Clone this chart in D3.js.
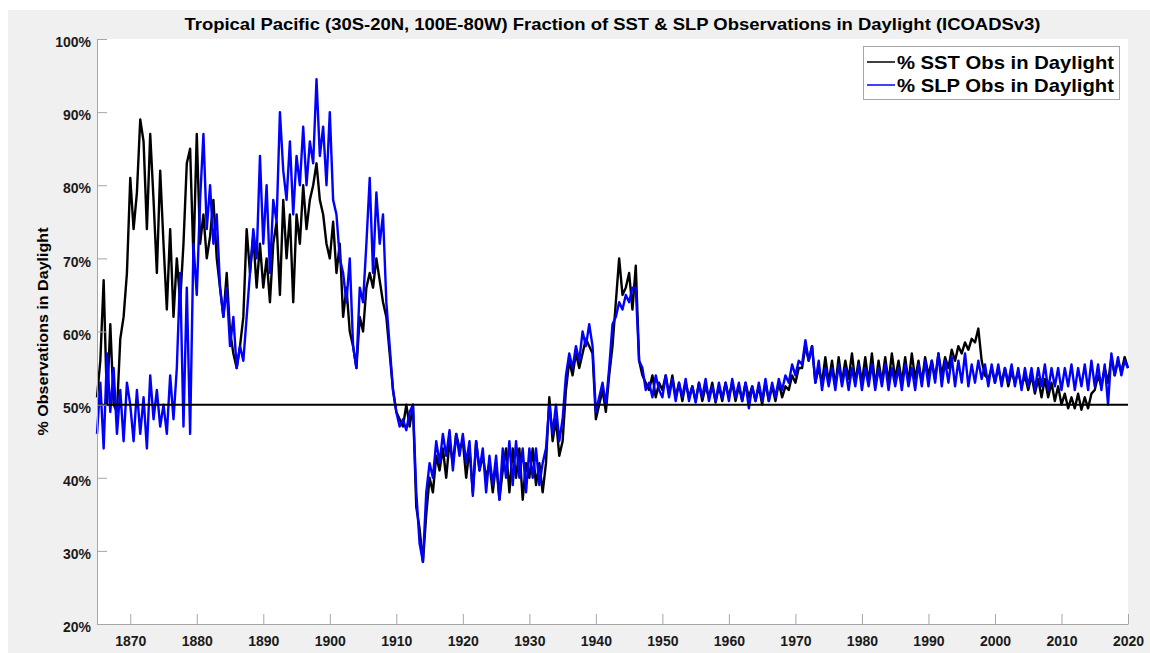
<!DOCTYPE html>
<html lang="en">
<head>
    <meta charset="utf-8">
    <title>Tropical Pacific Daylight Fraction</title>
    <script src="https://d3js.org/d3.v7.min.js"></script>
    <style>
    body {
        margin: 0;
        background: #fff;
        font-family: "Liberation Sans", Arial, sans-serif;
    }
    .tick text {
        font-weight: bold;
        fill: #1a1a1a;
    }
    </style>
</head>
<body>
    <script>

    // semiannual samples, starting 1865.0, step 0.5 year
    var startYear = 1865,
        stepYear = 0.5;

    // % of SST obs in daylight (black)
    var sst = [
        51, 56, 67, 50, 61, 50, 49, 59, 62, 68,
        81, 74, 79, 89, 86, 74, 87, 78, 68, 82, 72, 63, 74, 62, 70, 64, 72, 83, 85, 70,
        87, 72, 76, 70, 73, 78, 70, 66, 62, 68, 60, 57, 55, 58, 62, 74, 68, 73, 66, 72,
        66, 70, 64, 72, 75, 65, 78, 70, 76, 64, 76, 72, 80, 74, 78, 80, 83, 78, 76, 72,
        70, 75, 68, 72, 62, 66, 60, 58, 55, 62, 60, 66, 68, 66, 70, 67, 64, 62, 57, 52,
        49, 48, 47, 50, 47, 50, 36, 33, 28.5, 35, 40, 38, 43, 41, 44, 40, 45, 42, 46, 44,
        45, 40, 44, 38, 45, 41, 43, 40, 42, 38, 42, 37, 41, 44, 38, 44, 40, 44, 37, 42,
        40, 44, 39, 42, 38, 42, 51, 45, 48, 43, 45, 52, 56, 54, 57, 55, 57, 59, 58, 57,
        48, 50, 52, 49, 54, 58, 64, 70, 65, 66, 68, 63, 69, 56, 54, 53, 52, 54, 51, 53,
        52, 54, 51.5, 54, 51, 53, 50.5, 53, 51, 52.5, 50.5, 53, 50.5, 52.5, 51, 53, 50.3, 52.5, 50.5, 53,
        51, 53, 50.5, 52.5, 50.5, 53, 51, 52.5, 50.5, 52.5, 50, 53, 50.5, 52.5, 50.5, 53, 51, 52.5, 52, 54,
        53, 55, 55, 58, 56, 58, 53, 55, 53, 56.5, 53, 56, 52.5, 56.5, 53, 56, 53.5, 57, 53, 56,
        53, 56.5, 53, 57, 52.5, 56, 53, 56.5, 53, 57, 53.5, 56, 53, 56.5, 53, 57, 53.5, 56, 53, 56.5,
        54, 56, 53.5, 57, 54, 56.5, 55, 57.5, 56, 58, 57, 58.5, 57.5, 59, 58.5, 60.4, 56, 54, 53.5, 55,
        53, 55, 53, 55, 52.5, 54.5, 53, 54.5, 52.5, 54, 52, 54, 51.5, 53.5, 51, 53.5, 51, 53, 50.5, 52.5,
        50, 51.5, 49.5, 51, 49.5, 51.5, 49.3, 51, 49.5, 51.5, 52, 54, 52.5, 55, 53, 56.5, 54, 56, 54.5, 56.5,
        55
    ];

    // % of SLP obs in daylight (blue)
    var slp = [
        46, 53, 44, 57, 49, 55, 46, 52, 45, 53,
        50, 45, 52, 46, 51, 44, 54, 48, 52, 47, 50, 46, 54, 48, 55, 68, 47, 66, 46, 72,
        65, 78, 87, 74, 80, 72, 76, 66, 62, 66, 58, 62, 55, 58, 56, 62, 68, 74, 70, 84,
        72, 80, 68, 78, 75, 90, 82, 78, 86, 76, 84, 80, 88, 80, 86, 83, 94.5, 84, 88, 80,
        90, 78, 76, 70, 68, 64, 70, 58, 55, 66, 64, 72, 81, 68, 79, 72, 76, 64, 58, 52,
        49, 47, 48, 46.5, 49, 50, 38, 31, 28.5, 38, 42, 40, 45, 42, 46, 43, 46.5, 41, 46, 43,
        46, 42, 45, 37.5, 45, 41, 44, 38, 43, 39, 43, 37, 44, 40, 45, 39, 45, 40, 44, 38,
        44, 40, 44, 39, 42, 44, 50, 46, 50, 45, 48, 54, 57, 55, 58, 56, 60, 58, 61, 58,
        49, 51, 53, 50, 55, 61, 62, 64, 63, 65, 64, 66, 66, 56, 55, 52, 53, 51, 54, 52,
        51, 54, 51, 53.5, 50.5, 53, 51, 53.5, 50.5, 52.5, 50.3, 53, 51, 53.5, 50.5, 52.5, 50.5, 53, 50.8, 53,
        50.5, 53.5, 51, 53, 50.5, 53, 49.5, 52.5, 50.5, 53, 50.5, 53.5, 50.5, 53, 51, 53.5, 52, 54, 53, 55.5,
        54, 56, 55.5, 58.8, 56, 58, 53, 56, 52, 55, 52.5, 55, 52, 55.5, 52.5, 55, 52, 55, 52.5, 55.5,
        52, 55, 52.5, 55.5, 52, 55, 52.5, 55.5, 52, 55, 52.5, 55, 52, 55.5, 52.5, 55, 52, 55.5, 52.5, 56,
        52.5, 56, 53, 57, 52.5, 56, 53, 56.5, 52.5, 56, 53, 57, 52.5, 55.5, 53, 56, 53.5, 55.5, 52.5, 55.5,
        53, 55.5, 52.5, 55, 53, 55.5, 52.5, 55, 52, 55, 52.5, 55, 52, 55, 52.5, 55.5, 52, 55, 52.5, 55,
        52, 55, 52.5, 55.5, 52, 55, 52.5, 55.5, 52, 56, 52.5, 55.5, 52, 55.5, 50, 57, 54, 56.5, 54, 56,
        55
    ];

    var xTicks = [1870, 1880, 1890, 1900, 1910, 1920, 1930, 1940, 1950, 1960, 1970, 1980, 1990, 2000, 2010, 2020];
    var yTicks = [20, 30, 40, 50, 60, 70, 80, 90, 100];
    var refLine = 50;

    var titleText = "Tropical Pacific (30S-20N, 100E-80W) Fraction of SST & SLP Observations in Daylight (ICOADSv3)";
    var legendLabels = ["% SST Obs in Daylight", "% SLP Obs in Daylight"];
    var seriesColors = ["#000000", "#0000ff"];

    var width = 1150,
        height = 653;

    var margin = {left: 97, right: 22, top: 39, bottom: 29};

    var svg = d3.select("body")
        .append("svg")
        .attr("width", width)
        .attr("height", height);

    // gray figure background
    svg.append("rect")
        .attr("x", 8)
        .attr("y", 10)
        .attr("width", width - 8)
        .attr("height", height - 10)
        .attr("fill", "#f0f0f0");

    var x = d3.scaleLinear()
        .domain([1865, 2020])
        .range([margin.left, width - margin.right]);

    var y = d3.scaleLinear()
        .domain([20, 100])
        .range([height - margin.bottom, margin.top]);

    // white axes area
    svg.append("rect")
        .attr("x", x(1865))
        .attr("y", y(100))
        .attr("width", x(2020) - x(1865))
        .attr("height", y(20) - y(100))
        .attr("fill", "#fff");

    var toPoints = function(arr) {
        return arr.map(function(v, i) { return [startYear + i * stepYear, v]; });
    };

    var line = d3.line()
        .x(function(d) { return x(d[0]); })
        .y(function(d) { return y(d[1]); });

    var plot = svg.append("g");

    plot.append("path")
        .datum(toPoints(sst))
        .attr("d", line)
        .attr("fill", "none")
        .attr("stroke", seriesColors[0])
        .attr("stroke-width", 2.4)
        .attr("stroke-linejoin", "round");

    plot.append("path")
        .datum(toPoints(slp))
        .attr("d", line)
        .attr("fill", "none")
        .attr("stroke", seriesColors[1])
        .attr("stroke-width", 2.4)
        .attr("stroke-linejoin", "round");

    // 50% reference line
    plot.append("line")
        .attr("x1", x(1865))
        .attr("x2", x(2020))
        .attr("y1", y(refLine))
        .attr("y2", y(refLine))
        .attr("stroke", "#000")
        .attr("stroke-width", 2);

    // axes, ticks pointing inward
    var xAxis = svg.append("g")
        .attr("transform", "translate(0," + y(20) + ")")
        .call(d3.axisBottom(x)
            .tickValues(xTicks)
            .tickFormat(d3.format("d"))
            .tickSizeInner(-10)
            .tickSizeOuter(0)
            .tickPadding(8));

    var yAxis = svg.append("g")
        .attr("transform", "translate(" + x(1865) + ",0)")
        .call(d3.axisLeft(y)
            .tickValues(yTicks)
            .tickFormat(function(d) { return d + "%"; })
            .tickSizeInner(-10)
            .tickSizeOuter(0)
            .tickPadding(6));

    [xAxis, yAxis].forEach(function(g) {
        g.select(".domain").attr("stroke", "#a6a6a6");
        g.selectAll(".tick line").attr("stroke", "#a6a6a6");
        g.selectAll(".tick text")
            .style("font-size", "14px")
            .style("font-family", "'Liberation Sans', Arial, sans-serif");
    });
    xAxis.selectAll(".tick text").attr("dy", "1.0em");
    yAxis.selectAll(".tick text").attr("dy", "0.55em");

    // title
    svg.append("text")
        .attr("x", (x(1865) + x(2020)) / 2)
        .attr("y", 30)
        .attr("text-anchor", "middle")
        .attr("textLength", 856)
        .attr("lengthAdjust", "spacingAndGlyphs")
        .style("font-size", "16.5px")
        .style("font-weight", "bold")
        .text(titleText);

    // y label
    svg.append("text")
        .attr("transform", "translate(48," + (y(60)) + ") rotate(-90)")
        .attr("text-anchor", "middle")
        .attr("textLength", 208)
        .attr("lengthAdjust", "spacingAndGlyphs")
        .style("font-size", "15.5px")
        .style("font-weight", "bold")
        .text("% Observations in Daylight");

    // legend
    var legend = svg.append("g");
    legend.append("rect")
        .attr("x", 863.5)
        .attr("y", 46.5)
        .attr("width", 256)
        .attr("height", 53)
        .attr("fill", "#fff")
        .attr("stroke", "#a6a6a6")
        .attr("stroke-width", 1);

    legendLabels.forEach(function(lab, i) {
        var ly = 62 + i * 23;
        legend.append("line")
            .attr("x1", 867)
            .attr("x2", 895)
            .attr("y1", ly)
            .attr("y2", ly)
            .attr("stroke", seriesColors[i])
            .attr("stroke-width", 1.5);
        legend.append("text")
            .attr("x", 897)
            .attr("y", ly + 6.5)
            .attr("textLength", 217)
            .attr("lengthAdjust", "spacingAndGlyphs")
            .style("font-size", "18.5px")
            .style("font-weight", "bold")
            .text(lab);
    });

    </script>
</body>
</html>
